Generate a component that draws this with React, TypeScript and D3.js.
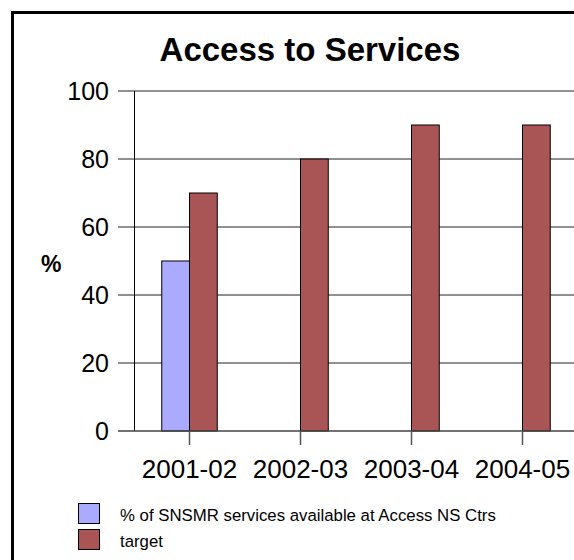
import React from "react";
import * as d3 from "d3";

const categories = ["2001-02", "2002-03", "2003-04", "2004-05"];
const seriesNames = ["% of SNSMR services available at Access NS Ctrs", "target"];
const actualValues: (number | null)[] = [50, null, null, null];
const targetValues: (number | null)[] = [70, 80, 90, 90];
const yTicks = [0, 20, 40, 60, 80, 100];
const colors = ["#AAAAFF", "#AA5555"];

export default function App() {
  const W = 574, H = 560;
  const y = d3.scaleLinear().domain([0, 100]).range([431, 91]);
  const x = d3.scaleBand<string>().domain(categories).range([134, 578]).paddingInner(0).paddingOuter(0);
  const step = x.bandwidth();
  const inner = d3.scaleBand<number>().domain([0, 1]).range([-step / 4, step / 4]);
  const series = [actualValues, targetValues];
  const font = "'Liberation Sans', Arial, sans-serif";

  return (
    <svg width={W} height={H} style={{ position: "absolute", left: 0, top: 0, display: "block" }} fontFamily={font}>
      <rect x={0} y={0} width={W} height={H} fill="#fff" />
      <rect x={12.5} y={12.5} width={W + 20} height={H + 20} fill="none" stroke="#000" strokeWidth={3} />
      <text x={310} y={61} textAnchor="middle" fontSize={33} fontWeight="bold">Access to Services</text>
      {yTicks.map((t) => (
        <g key={t}>
          {t > 0 && <line x1={118} x2={W} y1={y(t)} y2={y(t)} stroke="#6b6b6b" strokeWidth={1.5} />}
          <text x={109} y={y(t) + 9} textAnchor="end" fontSize={25}>{t}</text>
        </g>
      ))}
      <text x={41} y={272} fontSize={23} fontWeight="bold">%</text>
      {series.map((vals, si) =>
        vals.map((v, ci) =>
          v == null ? null : (
            <rect
              key={`${si}-${ci}`}
              x={(x(categories[ci]) as number) + step / 2 + (inner(si) as number)}
              y={y(v)}
              width={inner.bandwidth()}
              height={y(0) - y(v)}
              fill={colors[si]}
              stroke="#000"
              strokeWidth={1}
            />
          )
        )
      )}
      <line x1={134.5} x2={134.5} y1={y(100)} y2={y(0)} stroke="#000" strokeWidth={1} />
      <line x1={118} x2={W} y1={y(0)} y2={y(0)} stroke="#444" strokeWidth={1.5} />
      {categories.map((c) => {
        const cx = (x(c) as number) + step / 2;
        return (
          <g key={c}>
            <line x1={cx} x2={cx} y1={y(0)} y2={445} stroke="#555" strokeWidth={1.5} />
            <text x={cx} y={478} textAnchor="middle" fontSize={26}>{c}</text>
          </g>
        );
      })}
      {seriesNames.map((n, i) => (
        <g key={n}>
          <rect x={78.5} y={503.5 + i * 26} width={21} height={20} fill={colors[i]} stroke="#000" strokeWidth={1} />
          <text x={120} y={521 + i * 26} fontSize={16.8}>{n}</text>
        </g>
      ))}
    </svg>
  );
}
